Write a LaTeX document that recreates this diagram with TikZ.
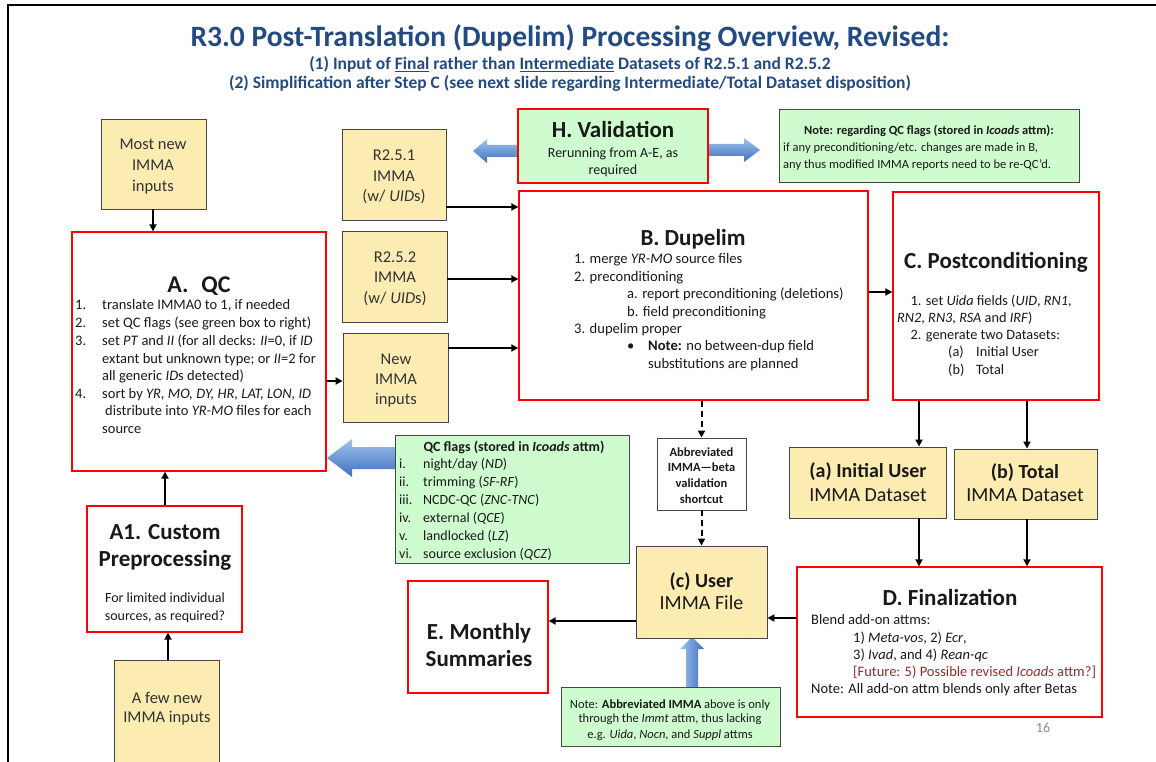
\documentclass[tikz,border=0pt]{standalone}
\usepackage{fontspec}
\setmainfont{Carlito}
\usetikzlibrary{arrows.meta}
\definecolor{ttlc}{RGB}{36,74,130}
\definecolor{yel}{RGB}{252,236,178}
\definecolor{grn}{RGB}{206,252,206}
\definecolor{bdr}{RGB}{70,70,70}
\definecolor{dred}{RGB}{150,45,45}
\definecolor{bluelt}{RGB}{160,195,235}
\definecolor{bluedk}{RGB}{62,112,192}
\definecolor{txtc}{RGB}{25,25,25}
\newcommand\fsz[2]{\fontsize{#1}{#2}\selectfont}
% box helper: style, name, x1, y1, x2, y2
\newcommand\boxat[6]{\node[#1,minimum width={#5-#3},minimum height={#6-#4}] (#2) at ({(#3+#5)/2},{(#4+#6)/2}) {};}
\begin{document}
\begin{tikzpicture}[x=1pt,y=-1pt,
  ybox/.style={draw=bdr,line width=0.9pt,fill=yel,inner sep=0pt},
  rbox/.style={draw=red,line width=1.3pt,fill=white,inner sep=0pt},
  gbox/.style={draw=bdr,line width=0.9pt,fill=grn,inner sep=0pt},
  wbox/.style={draw=bdr,line width=0.9pt,fill=white,inner sep=0pt},
  hbox/.style={draw=red,line width=1.3pt,fill=grn,inner sep=0pt},
  arr/.style={line width=1.8pt,-{Triangle[length=7pt,width=7pt]}},
  darr/.style={line width=2pt,dash pattern=on 6pt off 4pt,-{Triangle[length=7pt,width=7pt]}},
  blk/.style={draw=none,top color=bluelt,bottom color=bluedk},
  blkv/.style={draw=none,left color=bluelt,right color=bluedk},
  ln/.style={inner sep=0pt,text height=0.7em,text depth=0.2em,text=txtc,yshift=-3pt},
  lw/.style={ln,anchor=west},
  big/.style={ln,font=\fsz{23}{27}\bfseries,yshift=-2.5pt},
]
\useasboundingbox (0,0) rectangle (1156,762);
\fill[white] (0,0) rectangle (1156,762);
\draw[line width=1.5pt] (8,775) -- (8,5) -- (1160,5);

% titles
\node[ln,text=ttlc,font=\fsz{29.5}{32}\bfseries] (title) at (570,41) {R3.0 Post-Translation (Dupelim) Processing Overview, Revised:};
\node[ln,text=ttlc,font=\fsz{17.5}{20}\bfseries] (sub1) at (570,64) {(1) Input of \underline{Final} rather than \underline{Intermediate} Datasets of R2.5.1 and R2.5.2};
\node[ln,text=ttlc,font=\fsz{17.5}{20}\bfseries] (sub2) at (570,83.5) {(2) Simplification after Step C (see next slide regarding Intermediate/Total Dataset disposition)};

% blue block arrows (behind boxes)
\path[blk] (473,151) -- (487,139) -- (487,145) -- (525,145) -- (525,157) -- (487,157) -- (487,163) -- cycle;
\path[blk] (760,150) -- (744,138) -- (744,144) -- (700,144) -- (700,156) -- (744,156) -- (744,162) -- cycle;
\path[blk] (327,458) -- (352,439) -- (352,447) -- (400,447) -- (400,469) -- (352,469) -- (352,477) -- cycle;
\path[blkv] (692,637) -- (680,649) -- (686,649) -- (686,692) -- (698,692) -- (698,649) -- (704,649) -- cycle;

% boxes
\boxat{ybox}{most}{101}{119}{206}{209}
\boxat{rbox}{A}{72}{232}{326}{471}
\boxat{rbox}{A1}{87}{506}{242}{632}
\boxat{ybox}{few}{114}{660}{219}{790}
\boxat{ybox}{r251}{342}{129}{446}{220}
\boxat{ybox}{r252}{342}{231}{447}{322}
\boxat{ybox}{newim}{343}{333}{448}{422}
\boxat{hbox}{H}{518}{109}{708}{183}
\boxat{gbox}{noteT}{779}{109}{1079}{182}
\boxat{rbox}{B}{519}{191}{868}{400}
\boxat{rbox}{C}{893}{192}{1099}{400}
\boxat{ybox}{ia}{789}{447}{946}{518}
\boxat{ybox}{tb}{954}{449}{1097}{519}
\boxat{rbox}{D}{797}{567}{1102}{717}
\boxat{wbox}{abbr}{657}{438}{746}{510}
\boxat{ybox}{uc}{636}{546}{767}{638}
\boxat{rbox}{E}{408}{581}{548}{693}
\boxat{gbox}{noteB}{561}{687}{780}{746}
\boxat{gbox}{qcf}{395}{435}{629}{563}

% connectors
\draw[arr] (most.south -| 153,0) -- (A.north -| 153,0);
\draw[arr] (A1.north -| 165,0) -- (A.south -| 165,0);
\draw[arr] (few.north -| 168,0) -- (A1.south -| 168,0);
\draw[arr] (A.east |- 0,381) -- (newim.west |- 0,381);
\draw[arr] (r251.east |- 0,207) -- (B.west |- 0,207);
\draw[arr] (r252.east |- 0,279) -- (B.west |- 0,279);
\draw[arr] (newim.east |- 0,348) -- (B.west |- 0,348);
\draw[arr] (B.east |- 0,292) -- (C.west |- 0,292);
\draw[arr] (C.south -| 919,0) -- (ia.north -| 919,0);
\draw[arr] (C.south -| 1027,0) -- (tb.north -| 1027,0);
\draw[arr] (ia.south -| 919,0) -- (D.north -| 919,0);
\draw[arr] (tb.south -| 1027,0) -- (D.north -| 1027,0);
\draw[arr] (D.west |- 0,618) -- (uc.east |- 0,618);
\draw[arr] (uc.west |- 0,621) -- (E.east |- 0,621);
\draw[darr] (abbr.north |- B.south) -- (abbr.north);
\draw[darr] (abbr.south) -- (abbr.south |- uc.north);

% texts: yellow inputs
\begin{scope}[every node/.style={ln,font=\fsz{16.5}{20},text=black!80}]
\node (mostT1) at (153,144) {Most new};
\node (mostT2) at (153,165) {IMMA};
\node (mostT3) at (153,186) {inputs};
\node (r251T1) at (394,155) {R2.5.1};
\node (r251T2) at (394,176) {IMMA};
\node (r251T3) at (394,196) {(w/ \textit{UID}s)};
\node (r252T1) at (395,257) {R2.5.2};
\node (r252T2) at (395,277) {IMMA};
\node (r252T3) at (395,298) {(w/ \textit{UID}s)};
\node (newT1) at (396,359) {New};
\node (newT2) at (396,379) {IMMA};
\node (newT3) at (396,399) {inputs};
\node (fewT1) at (167,698) {A few new};
\node (fewT2) at (167,717) {IMMA inputs};
\end{scope}

% A. QC
\node[ln,font=\fsz{24}{28}\bfseries,yshift=-2.5pt] (Atitle) at (199,284) {A.\hspace{13pt}QC};
\begin{scope}[every node/.style={lw,font=\fsz{14.5}{17}}]
\node (An1) at (75,304) {1.};
\node (At1) at (102,304) {translate IMMA0 to 1, if needed};
\node (An2) at (75,322) {2.};
\node (At2) at (102,322) {set QC flags (see green box to right)};
\node (An3) at (75,340) {3.};
\node (At3) at (102,340) {set \textit{PT} and \textit{II} (for all decks: \textit{II}=0, if \textit{ID}};
\node (At3b) at (102,357.5) {extant but unknown type; or \textit{II}=2 for};
\node (At3c) at (102,375) {all generic \textit{ID}s detected)};
\node (An4) at (75,392.5) {4.};
\node (At4) at (102,392.5) {sort by \textit{YR, MO, DY, HR, LAT, LON, ID}};
\node (At4b) at (105,410) {distribute into \textit{YR-MO} files for each};
\node (At4c) at (102,427.5) {source};
\end{scope}

% A1
\node[big] (A1t1) at (165,531) {A1. Custom};
\node[big] (A1t2) at (165,558) {Preprocessing};
\node[ln,font=\fsz{14}{17}] (A1t3) at (165,597) {For limited individual};
\node[ln,font=\fsz{14}{17}] (A1t4) at (165,615) {sources, as required?};

% H
\node[big] (Ht1) at (613,130) {H. Validation};
\node[ln,font=\fsz{14}{17}] (Ht2) at (613,152) {Rerunning from A-E, as};
\node[ln,font=\fsz{14}{17}] (Ht3) at (613,169) {required};

% note top
\node[ln,font=\fsz{12.5}{15}\bfseries] (nT1) at (929,129) {Note: regarding QC flags (stored in \textit{Icoads} attm):};
\node[lw,font=\fsz{12.5}{15}] (nT2) at (783,146) {if any preconditioning/etc. changes are made in B,};
\node[lw,font=\fsz{12.5}{15}] (nT3) at (783,163) {any thus modified IMMA reports need to be re-QC’d.};

% B
\node[big] (Bt) at (693,237) {B. Dupelim};
\begin{scope}[every node/.style={lw,font=\fsz{14.6}{17}}]
\node (B1) at (574,258) {1. merge \textit{YR-MO} source files};
\node (B2) at (574,276) {2. preconditioning};
\node (B2a) at (627,293) {a. report preconditioning (deletions)};
\node (B2b) at (627,311) {b. field preconditioning};
\node (B3) at (574,328) {3. dupelim proper};
\node (Bbul) at (627,345) {\textbullet};
\node (B3a) at (648,345) {\textbf{Note:} no between-dup field};
\node (B3b) at (648,363) {substitutions are planned};
\end{scope}

% C
\node[big] (Ct) at (996,260) {C. Postconditioning};
\begin{scope}[every node/.style={lw,font=\fsz{14.3}{17}}]
\node (C1) at (910.5,300) {1. set \textit{Uida} fields (\textit{UID}, \textit{RN1},};
\node (C1b) at (897,317) {\textit{RN2}, \textit{RN3}, \textit{RSA} and \textit{IRF})};
\node (C2) at (910.5,334) {2. generate two Datasets:};
\node (C2a) at (948,351) {(a)};
\node (C2at) at (976,351) {Initial User};
\node (C2b) at (948,369) {(b)};
\node (C2bt) at (976,369) {Total};
\end{scope}

% (a) (b) (c)
\node[ln,font=\fsz{20}{24}\bfseries] (iaT1) at (868,472) {(a) Initial User};
\node[ln,font=\fsz{20}{24}] (iaT2) at (868,496) {IMMA Dataset};
\node[ln,font=\fsz{20}{24}\bfseries] (tbT1) at (1025,473) {(b) Total};
\node[ln,font=\fsz{20}{24}] (tbT2) at (1025,496) {IMMA Dataset};
\node[ln,font=\fsz{20}{24}\bfseries] (ucT1) at (701.5,582) {(c) User};
\node[ln,font=\fsz{20}{24}] (ucT2) at (701.5,604) {IMMA File};

% abbreviated
\begin{scope}[every node/.style={ln,font=\fsz{12.5}{15}\bfseries}]
\node (ab1) at (701.5,451) {Abbreviated};
\node (ab2) at (701.5,466) {IMMA—beta};
\node (ab3) at (701.5,482) {validation};
\node (ab4) at (701.5,498) {shortcut};
\end{scope}

% D
\node[big] (Dt) at (950,597) {D. Finalization};
\begin{scope}[every node/.style={lw,font=\fsz{14.5}{17}}]
\node (D1) at (811,619) {Blend add-on attms:};
\node (D2) at (853,637) {1) \textit{Meta-vos}, 2) \textit{Ecr},};
\node (D3) at (853,654) {3) \textit{Ivad}, and 4) \textit{Rean-qc}};
\node[text=dred] (D4) at (853,671) {[Future: 5) Possible revised \textit{Icoads} attm?]};
\node (D5) at (811,688) {Note: All add-on attm blends only after Betas};
\end{scope}
\node[ln,font=\fsz{14}{17},text=black!45] (pg) at (1043,727) {16};

% E
\node[big] (Et1) at (479,631) {E. Monthly};
\node[big] (Et2) at (479,658) {Summaries};

% note bottom
\begin{scope}[every node/.style={ln,font=\fsz{12.5}{15}}]
\node (nb1) at (670,703) {Note: \textbf{Abbreviated IMMA} above is only};
\node (nb2) at (670,717) {through the \textit{Immt} attm, thus lacking};
\node (nb3) at (670,733) {e.g. \textit{Uida}, \textit{Nocn}, and \textit{Suppl} attms};
\end{scope}

% QC flags
\node[ln,font=\fsz{14}{17}\bfseries] (qT) at (514,446) {QC flags (stored in \textit{Icoads} attm)};
\begin{scope}[every node/.style={lw,font=\fsz{14}{17}}]
\node (q1n) at (399,463) {i.};   \node (q1) at (423,463) {night/day (\textit{ND})};
\node (q2n) at (399,481) {ii.};  \node (q2) at (423,481) {trimming (\textit{SF-RF})};
\node (q3n) at (399,499) {iii.}; \node (q3) at (423,499) {NCDC-QC (\textit{ZNC-TNC})};
\node (q4n) at (399,517) {iv.};  \node (q4) at (423,517) {external (\textit{QCE})};
\node (q5n) at (399,535) {v.};   \node (q5) at (423,535) {landlocked (\textit{LZ})};
\node (q6n) at (399,553) {vi.};  \node (q6) at (423,553) {source exclusion (\textit{QCZ})};
\end{scope}
\end{tikzpicture}
\end{document}
